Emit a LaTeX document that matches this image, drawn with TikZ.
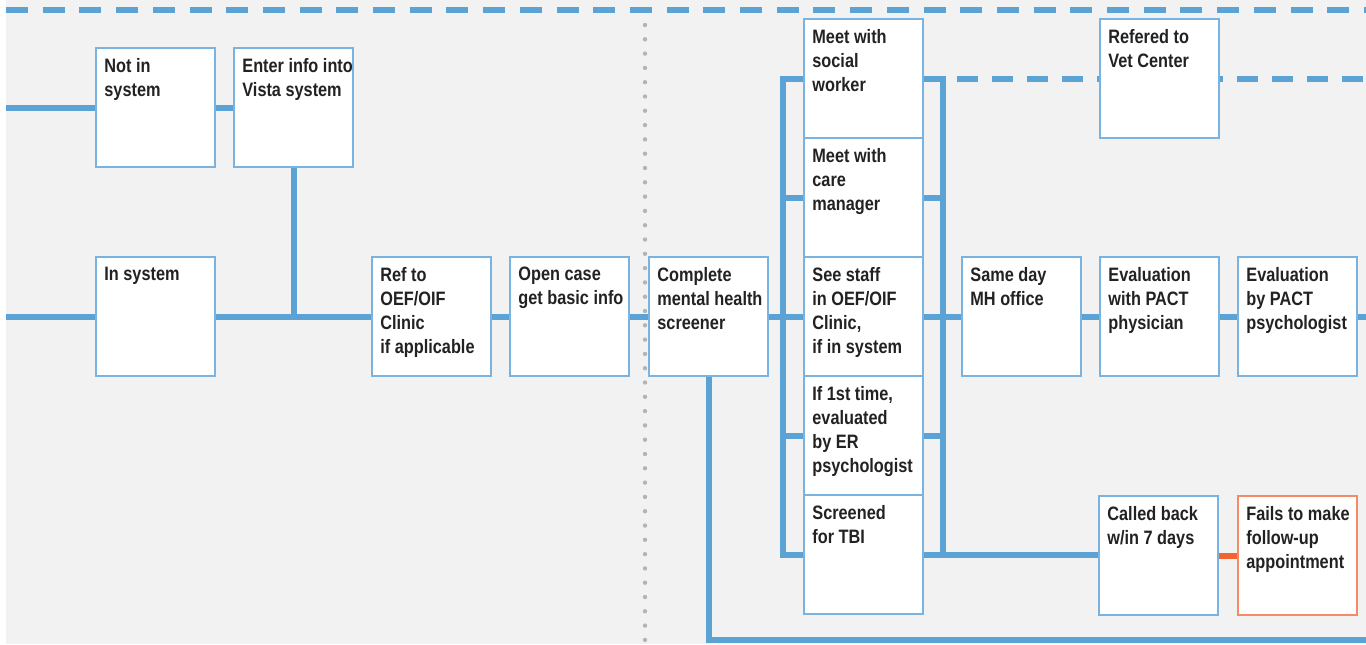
\documentclass[tikz,border=0pt]{standalone}
\usepackage{fontspec}
\setmainfont[FakeStretch=0.84]{Liberation Sans}
\definecolor{bgc}{HTML}{F2F2F2}
\definecolor{linec}{HTML}{5BA2D5}
\definecolor{boxc}{HTML}{7AB3E0}
\definecolor{orc}{HTML}{F26430}
\definecolor{orbox}{HTML}{F58A66}
\definecolor{dotc}{HTML}{B4B4B8}
\definecolor{txtc}{HTML}{222222}
\pgfdeclarelayer{back}
\pgfdeclarelayer{lines}
\pgfsetlayers{back,lines,main}
\tikzset{
  box/.style={draw=boxc, line width=0.6pt, fill=white, anchor=north west,
    minimum width=59.5pt, minimum height=59.5pt, inner sep=0pt, outer sep=0pt},
  lbl/.style={anchor=north west, inner sep=0pt, align=left, xshift=4pt, yshift=-5pt,
    font=\fontsize{9.7}{12}\selectfont\bfseries, text=txtc},
  conn/.style={draw=linec, line width=3pt},
  dashconn/.style={conn, dash pattern=on 10.5pt off 7pt, dash phase=10.5pt},
  topdash/.style={conn, dash pattern=on 11pt off 7.35pt},
  dotline/.style={draw=dotc, line width=2.2pt, line cap=round, dash pattern=on 0pt off 7.15pt}
}
\begin{document}
\begin{tikzpicture}[x=0.5pt,y=-0.5pt]
\useasboundingbox (0,0) rectangle (1366,644);
\begin{pgfonlayer}{back}
  \fill[white] (0,0) rectangle (1366,644);
  \fill[bgc] (6,0) rectangle (1366,644);
\end{pgfonlayer}

% boxes
\node[box, label={[lbl]north west:{Not in\\system}}] (notin) at (96,48) {};
\node[box, label={[lbl]north west:{Enter info into\\Vista system}}] (enter) at (234,48) {};
\node[box, label={[lbl]north west:{In system}}] (insys) at (96,257) {};
\node[box, label={[lbl]north west:{Ref to\\OEF/OIF\\Clinic\\if applicable}}] (ref) at (372,257) {};
\node[box, label={[lbl]north west:{Open case\\get basic info}}] (open) at (510,257) {};
\node[box, label={[lbl]north west:{Complete\\mental health\\screener}}] (complete) at (649,257) {};
\node[box, label={[lbl]north west:{Meet with\\social\\worker}}] (social) at (804,19) {};
\node[box, label={[lbl]north west:{Meet with\\care\\manager}}] (care) at (804,138) {};
\node[box, label={[lbl]north west:{See staff\\in OEF/OIF\\Clinic,\\if in system}}] (see) at (804,257) {};
\node[box, label={[lbl]north west:{If 1st time,\\evaluated\\by ER\\psychologist}}] (first) at (804,376) {};
\node[box, label={[lbl]north west:{Screened\\for TBI}}] (screened) at (804,495) {};
\node[box, label={[lbl]north west:{Same day\\MH office}}] (same) at (962,257) {};
\node[box, label={[lbl]north west:{Evaluation\\with PACT\\physician}}] (pactphys) at (1100,257) {};
\node[box, label={[lbl]north west:{Evaluation\\by PACT\\psychologist}}] (pactpsy) at (1238,257) {};
\node[box, label={[lbl]north west:{Refered to\\Vet Center}}] (vet) at (1100,19) {};
\node[box, label={[lbl]north west:{Called back\\w/in 7 days}}] (called) at (1099,496) {};
\node[box, draw=orbox, label={[lbl]north west:{Fails to make\\follow-up\\appointment}}] (fails) at (1238,496) {};

% free ends
\coordinate (l1) at (6,107.5);
\coordinate (l2) at (6,316.5);
\coordinate (r1) at (1366,316.5);
\coordinate (rd) at (1366,78.5);
\coordinate (bend) at (1366,640);
\coordinate (t0) at (6,10);
\coordinate (t1) at (1366,10);
\coordinate (d0) at (645,25);
\coordinate (d1) at (645,644);

\begin{pgfonlayer}{lines}
  \draw[topdash] (t0) -- (t1);
  \draw[dotline] (d0) -- (d1);
  \draw[conn] (l1) -- (notin.west);
  \draw[conn] (notin.east) -- (enter.west);
  \draw[conn] (enter.south) -- (enter.south |- insys.east);
  \draw[conn] (l2) -- (insys.west);
  \draw[conn] (insys.east) -- (ref.west);
  \draw[conn] (ref.east) -- (open.west);
  \draw[conn] (open.east) -- (complete.west);
  \draw[conn] (complete.east) -- (see.west);
  \draw[conn] (social.west) -- ++(-21,0) coordinate (lt) |- (screened.west);
  \draw[conn] (care.west) -- (care.west -| lt);
  \draw[conn] (first.west) -- (first.west -| lt);
  \draw[conn] (social.east) -- ++(20,0) coordinate (rt) -- (rt |- screened.east);
  \draw[conn] (care.east) -- (care.east -| rt);
  \draw[conn] (first.east) -- (first.east -| rt);
  \draw[dashconn] (rt) -- (rd);
  \draw[conn] (see.east) -- (same.west);
  \draw[conn] (same.east) -- (pactphys.west);
  \draw[conn] (pactphys.east) -- (pactpsy.west);
  \draw[conn] (pactpsy.east) -- (r1);
  \draw[conn] (screened.east) -- (screened.east -| called.west);
  \draw[conn, draw=orc] (called.east) -- (fails.west);
  \draw[conn] (complete.south) |- (bend);
\end{pgfonlayer}
\end{tikzpicture}
\end{document}
